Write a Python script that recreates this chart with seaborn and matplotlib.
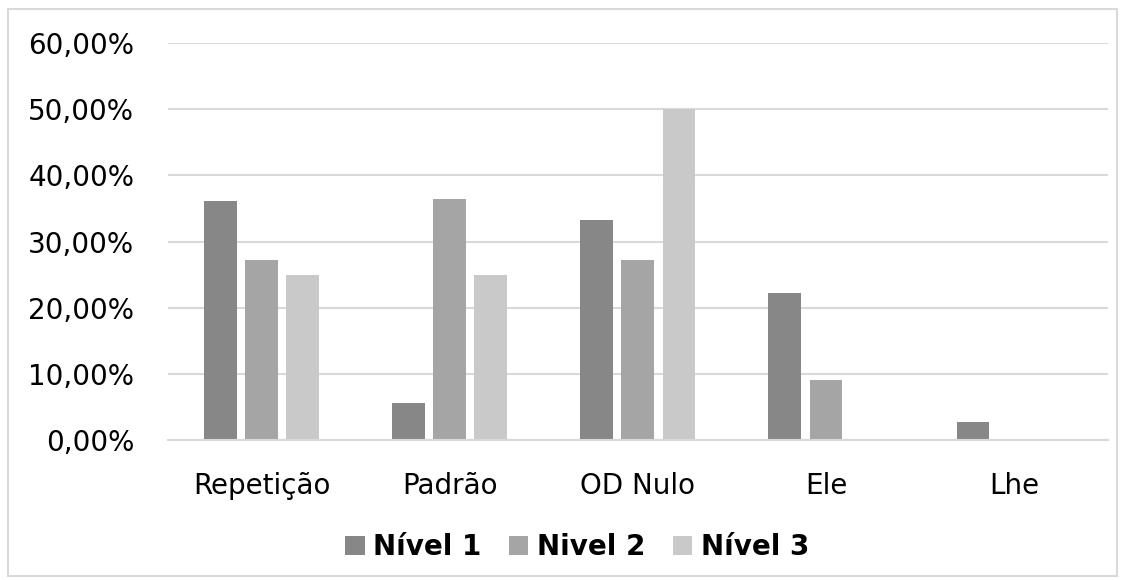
import matplotlib
matplotlib.use("Agg")
import matplotlib.pyplot as plt
from matplotlib.patches import Rectangle
from matplotlib.ticker import FuncFormatter
import seaborn as sns
import pandas as pd

categories = ["Repetição", "Padrão", "OD Nulo", "Ele", "Lhe"]
series_names = ["Nível 1", "Nivel 2", "Nível 3"]
nivel1 = [36.11, 5.56, 33.33, 22.22, 2.78]
nivel2 = [27.27, 36.36, 27.27, 9.09, 0.0]
nivel3 = [25.00, 25.00, 50.00, 0.0, 0.0]
colors = ["#878787", "#a5a5a5", "#c9c9c9"]

rows = []
for name, vals in zip(series_names, [nivel1, nivel2, nivel3]):
    for cat, v in zip(categories, vals):
        rows.append({"categoria": cat, "nivel": name, "valor": v})
df = pd.DataFrame(rows)

sns.set_theme(style="white")
plt.rcParams["font.family"] = ["DejaVu Sans"]
plt.rcParams["text.color"] = "black"

fig = plt.figure(figsize=(11.25, 5.8), dpi=100)
ax = fig.add_axes([0.149, 0.241, 0.836, 0.685])

sns.barplot(data=df, x="categoria", y="valor", hue="nivel",
            order=categories, hue_order=series_names,
            palette=colors, width=0.655, gap=0.2, saturation=1,
            linewidth=0, ax=ax, legend=False)

ax.set_ylim(0, 60)
ax.set_yticks(range(0, 61, 10))
ax.yaxis.set_major_formatter(FuncFormatter(lambda v, p: f"{v:.2f}%".replace(".", ",")))
ax.grid(axis="y", color="#d9d9d9", linewidth=1.5)
ax.set_axisbelow(True)
for side in ["left", "right", "top"]:
    ax.spines[side].set_visible(False)
ax.spines["bottom"].set_color("#d9d9d9")
ax.spines["bottom"].set_linewidth(1.5)
ax.tick_params(axis="y", length=0, pad=24, labelsize=20, labelcolor="black")
ax.tick_params(axis="x", length=0, pad=23, labelsize=20, labelcolor="black")
ax.set_xlabel("")
ax.set_ylabel("")

handles = [Rectangle((0, 0), 1, 1, facecolor=c, edgecolor="none") for c in colors]
leg = fig.legend(handles, series_names, loc="center", bbox_to_anchor=(0.513, 1 - 547 / 580),
                 ncol=3, frameon=False, prop={"weight": "bold", "size": 20},
                 handlelength=0.7, handleheight=0.7, handletextpad=0.3, columnspacing=1.0)
for t in leg.get_texts():
    t.set_color("black")

fig.patches.append(Rectangle((8 / 1125, 4 / 580), 1109 / 1125, 567 / 580,
                             transform=fig.transFigure, fill=False,
                             edgecolor="#d9d9d9", linewidth=1.5))

fig.savefig("out.png", dpi=100, facecolor="white")
